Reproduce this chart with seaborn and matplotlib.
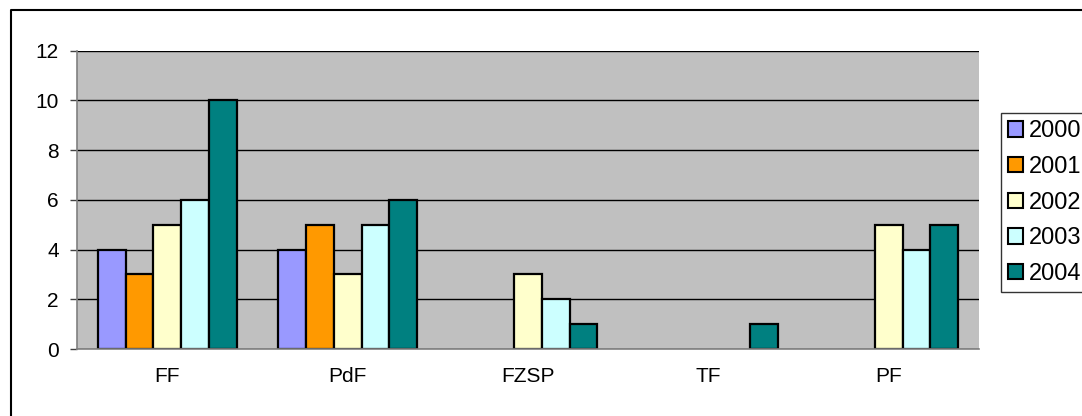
import pandas as pd
import matplotlib
matplotlib.use("Agg")
import matplotlib.pyplot as plt
from matplotlib.lines import Line2D
import seaborn as sns

# data
categories = ["FF", "PdF", "FZSP", "TF", "PF"]
years = ["2000", "2001", "2002", "2003", "2004"]
v2000 = [4, 4, 0, 0, 0]
v2001 = [3, 5, 0, 0, 0]
v2002 = [5, 3, 3, 0, 5]
v2003 = [6, 5, 2, 0, 4]
v2004 = [10, 6, 1, 1, 5]
colors = ["#9999FF", "#FF9900", "#FFFFCC", "#CCFFFF", "#008080"]

rows = []
for yr, vals in zip(years, [v2000, v2001, v2002, v2003, v2004]):
    for c, v in zip(categories, vals):
        rows.append({"cat": c, "year": yr, "value": v})
df = pd.DataFrame(rows)

sns.set_style("white")
plt.rcParams['font.family'] = ['Liberation Sans', 'DejaVu Sans']
plt.rcParams['text.color'] = 'black'
plt.rcParams['xtick.labelcolor'] = 'black'
plt.rcParams['ytick.labelcolor'] = 'black'

fig = plt.figure(figsize=(10.82, 4.16), dpi=100)
ax = fig.add_axes([0.0712, 0.161, 0.8336, 0.717])
ax.set_facecolor("#C0C0C0")

sns.barplot(data=df, x="cat", y="value", hue="year", order=categories,
            hue_order=years, palette=colors, width=0.77, ax=ax,
            edgecolor="black", linewidth=1.6, saturation=1, errorbar=None,
            legend=True)

# empty bars: no outline
for p in ax.patches:
    if p.get_height() == 0:
        p.set_linewidth(0)

ax.set_ylim(0, 12)
ax.set_xlim(-0.5, 4.5)
ax.set_yticks(range(0, 13, 2))
ax.yaxis.grid(True, color="black", linewidth=1)
ax.set_axisbelow(True)
ax.set_xlabel("")
ax.set_ylabel("")

# category boundaries ticks
ax.set_xticks([i - 0.5 for i in range(6)], minor=True)
ax.tick_params(axis="x", which="minor", length=5, width=1, color="#404040", direction="out")
ax.tick_params(axis="x", which="major", length=0, labelsize=15, pad=13, labelcolor="black")
ax.tick_params(axis="y", which="major", length=5, width=1, color="#404040",
               direction="out", labelsize=15, pad=8, left=True, labelcolor="black")

for s in ["top", "right"]:
    ax.spines[s].set_visible(False)
ax.spines["left"].set_color("#808080")
ax.spines["bottom"].set_color("#808080")
ax.spines["left"].set_linewidth(1.2)
ax.spines["bottom"].set_linewidth(1.2)

# legend
handles, labels = ax.get_legend_handles_labels()
ax.get_legend().remove()
leg = fig.legend(handles, labels, loc="upper left",
                 bbox_to_anchor=(0.925, 0.728), fontsize=17,
                 frameon=True, fancybox=False, edgecolor="black",
                 handlelength=0.62, handleheight=0.62, handletextpad=0.25,
                 labelspacing=0.58, borderpad=0.3, borderaxespad=0)
leg.get_frame().set_linewidth(1)
for h in leg.legend_handles:
    h.set_edgecolor("black")
    h.set_linewidth(1.5)
for t in leg.get_texts():
    t.set_color("black")

# outer border (top and left only)
W, H = 1082, 416
fig.add_artist(Line2D([11 / W, 11 / W, 1.0], [0.0, 1 - 10 / H, 1 - 10 / H],
                      transform=fig.transFigure, color="black", linewidth=1.5))

fig.savefig("out.png", dpi=100)
